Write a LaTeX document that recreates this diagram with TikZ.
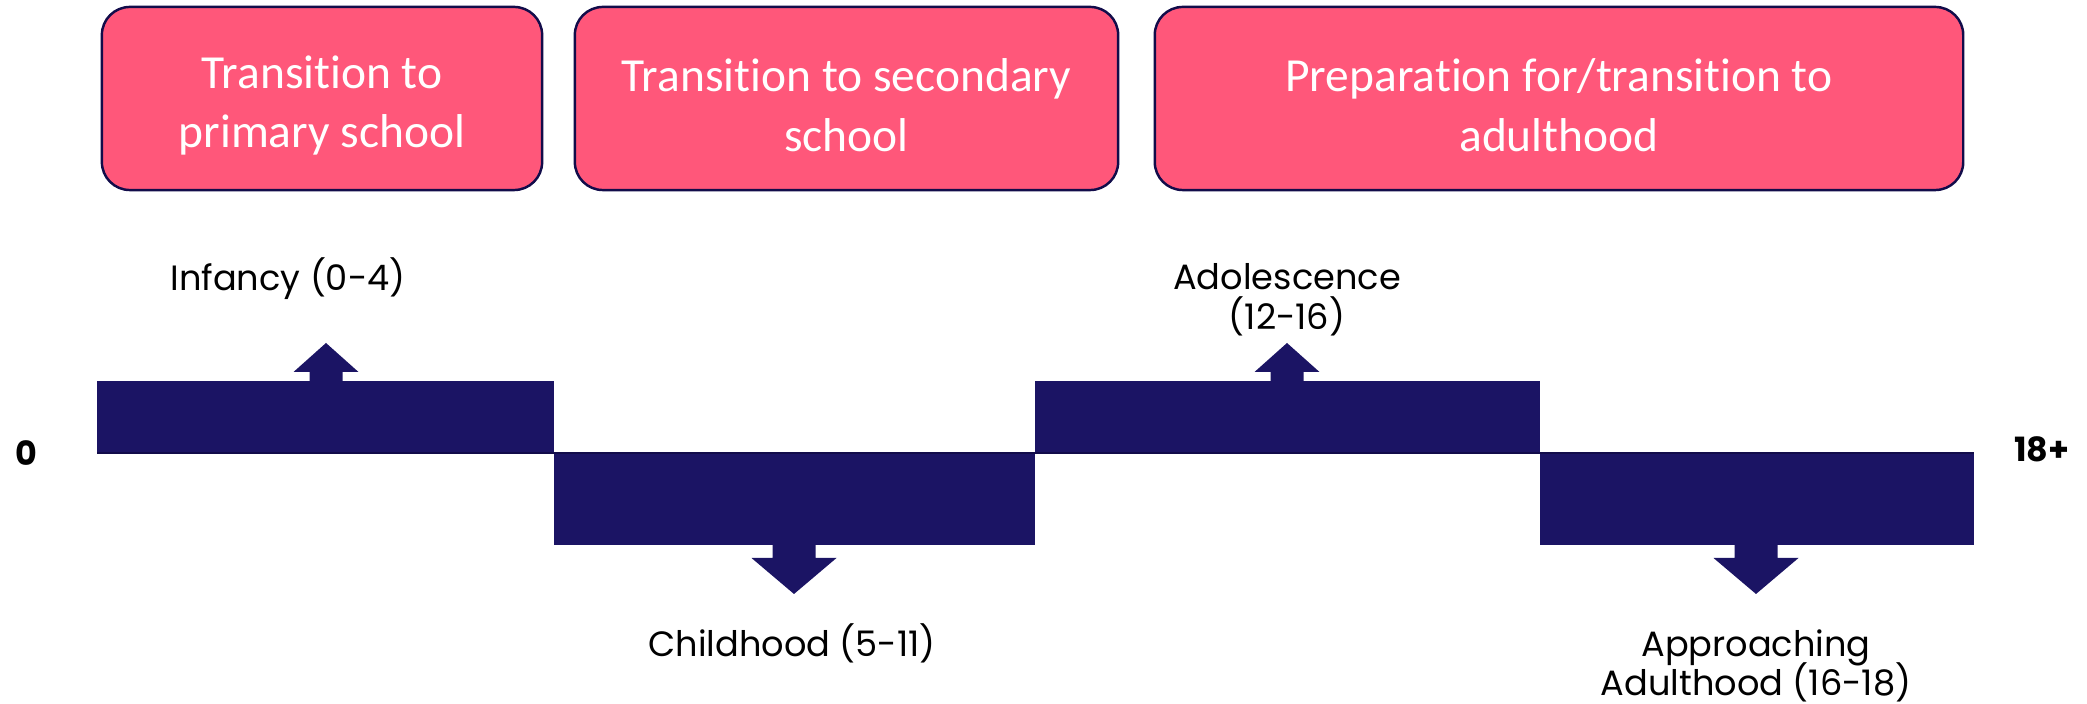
\documentclass[tikz,border=0pt]{standalone}
\usepackage{fontspec}
\newfontfamily\boxfont[Ligatures=NoCommon]{Carlito}
\newfontfamily\stagefont{Poppins}
\newcommand\stagesize{\fontsize{10}{11.3}\selectfont\lineskiplimit=-5pt\relax}
\usetikzlibrary{positioning}
\definecolor{navy}{HTML}{1B1464}
\definecolor{deepnavy}{HTML}{120C4A}
\definecolor{rose}{HTML}{FF577A}
\tikzset{
	phase/.style={draw=deepnavy, line width=0.7pt, fill=rose, rounded corners=0.28cm, inner sep=0pt, minimum height=1.83cm},
	phasetext/.style={align=center, text=white, font=\boxfont\fontsize{13.5}{17}\selectfont},
	stage/.style={align=center, font=\stagefont\stagesize},
	endlabel/.style={font=\stagefont\bfseries\fontsize{9.5}{11}\selectfont},
}
\begin{document}
\begin{tikzpicture}[x=0.01cm, y=-0.01cm]
	\useasboundingbox (0,0) rectangle (2087,704);
	
	% Transition boxes along the top
	\node[phase, minimum width=4.40cm] (primary) at (322,98.5) {};
	\node[phase, minimum width=5.43cm] (secondary) at (846.5,98.5) {};
	\node[phase, minimum width=8.08cm] (adulthood) at (1559,98.5) {};
	\node[phasetext] (primarytext) at ([yshift=-2pt]primary.center) {Transition to\\primary school};
	\node[phasetext] (secondarytext) at ([yshift=-2pt]secondary.center) {Transition to secondary\\school};
	\node[phasetext] (adulthoodtext) at ([yshift=-2pt]adulthood.center) {Preparation for/transition to\\adulthood};
	
	% Stage blocks, alternating above and below the line
	\fill[navy] (97,381) rectangle (554,453);
	\fill[navy] (554,453) rectangle (1035,545);
	\fill[navy] (1035,381) rectangle (1540,453);
	\fill[navy] (1540,453) rectangle (1974,545);
	\draw[deepnavy, line width=0.8pt] (97,453) -- (1974,453);
	
	% Block arrows pointing to the stage names
	\foreach \ax in {326,1287} {
		\fill[navy] (\ax-16.5,382) -- (\ax-16.5,372) -- (\ax-32.5,372) -- (\ax,343) -- (\ax+32.5,372) -- (\ax+16.5,372) -- (\ax+16.5,382) -- cycle;
	}
	\foreach \ax in {794,1756} {
		\fill[navy] (\ax-21.5,544) -- (\ax-21.5,558) -- (\ax-42.5,558) -- (\ax,594) -- (\ax+42.5,558) -- (\ax+21.5,558) -- (\ax+21.5,544) -- cycle;
	}
	
	% Stage names and ends of the line
	\node[stage, anchor=base] (infancy) at (288,291) {Infancy (0-4)};
	\node[stage] (adolescence) at (1287,300) {Adolescence\\(12-16)};
	\node[stage, anchor=base] (childhood) at (792,657) {Childhood (5-11)};
	\node[stage] (approaching) at (1756,666) {Approaching\\Adulthood (16-18)};
	\node[endlabel] (zero) at (26,453) {0};
	\node[endlabel] (eighteen) at (2042,449) {18+};
\end{tikzpicture}
\end{document}
